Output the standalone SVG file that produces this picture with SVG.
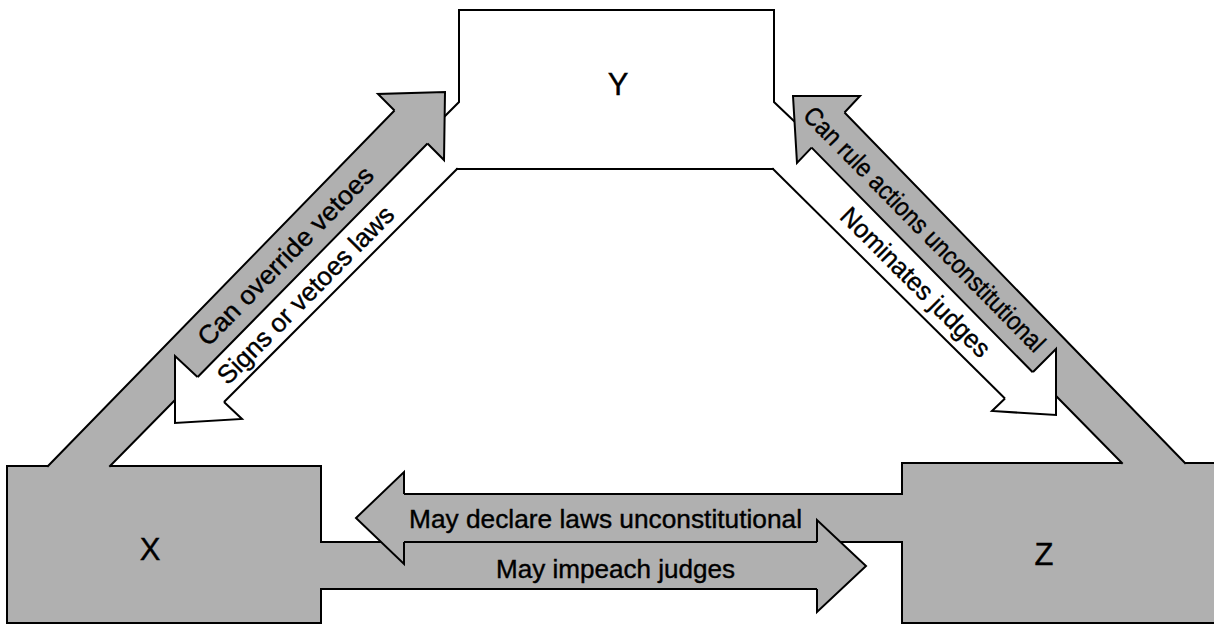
<svg xmlns="http://www.w3.org/2000/svg" width="1214" height="625" viewBox="0 0 1214 625">
<style>
.g{fill:#b0b0b0;stroke:none}
.ln{fill:none;stroke:#000;stroke-width:2;stroke-linejoin:miter;stroke-linecap:square}
.hg{fill:#b0b0b0;stroke:#000;stroke-width:2;stroke-linejoin:miter}
.hw{fill:#fff;stroke:#000;stroke-width:2;stroke-linejoin:miter}
.lbl{font-family:"Liberation Sans",Arial,Helvetica,sans-serif;font-size:26px;fill:#000;stroke:#000;stroke-width:0.4}
.nl{font-family:"Liberation Sans",Arial,Helvetica,sans-serif;font-size:31px;fill:#000;text-anchor:middle;stroke:#000;stroke-width:0.4}
</style>
<rect width="1214" height="625" fill="#fff"/>
<g id="node-y">
<path class="ln" d="M445,116 L459,102 L459,10 L774,10 L774,102 L794,121"/>
<path class="ln" d="M457,169 L773,169"/>
<text class="nl" x="618" y="95">Y</text>
</g>
<g id="node-x">
<rect class="g" x="7" y="466" width="314" height="157"/>
<path class="ln" d="M48,466 L7,466 L7,623 L321,623 L321,589 M321,542 L321,466 L110,466"/>
<text class="nl" x="150" y="560">X</text>
</g>
<g id="node-z">
<rect class="g" x="902" y="463" width="314" height="160"/>
<path class="ln" d="M1122,463 L902,463 L902,494 M902,542 L902,623 L1216,623 M1185,463 L1216,463"/>
<text class="nl" x="1044" y="565">Z</text>
</g>
<g id="connectors">
<g id="edge-x-y">
<polygon class="g" points="48,468 48,466 394.5,110.5 399,106 432,139 427.5,143.5 110,466 110,468"/>
<path class="ln" d="M48,466 L394.5,110.5 M427.5,143.5 L110,466"/>
</g>
<g id="edge-y-x">
<path class="ln" d="M457,169 L224,402"/>
</g>
<g id="edge-z-y">
<polygon class="g" points="840,108 844.5,112.5 1185,463 1185,465 1122,465 1122,463 811.6,147.6 807,143"/>
<path class="ln" d="M844.5,112.5 L1185,463 M811.6,147.6 L1122,463"/>
</g>
<g id="edge-y-z">
<path class="ln" d="M773,169 L1005,398.5"/>
</g>
<g id="edge-z-x">
<rect class="g" x="400" y="494" width="503" height="48"/>
<path class="ln" d="M404,494 L902,494 M404,542 L902,542"/>
</g>
<g id="edge-x-z">
<rect class="g" x="320" y="542" width="501" height="47"/>
<path class="ln" d="M321,542 L817,542 M321,589 L817,589"/>
</g>
<g id="arrowheads">
<path class="hg" d="M394.5,110.5 L378,94 L445,92 L444,160 L427.5,143.5"/>
<path class="hw" d="M197.5,377 L175,356 L175,423 L242,419 L224,402"/>
<path class="hg" d="M844.5,112.5 L860,96 L793,96 L797,163 L811.6,147.6"/>
<path class="hw" d="M1033,372 L1056,349 L1056,415 L992,411 L1005,398.5"/>
<path class="hg" d="M404,494 L404,472 L356,518 L404,564 L404,542"/>
<path class="hg" d="M817,542 L817,520 L866,566 L817,612 L817,589"/>
</g>
<g id="connector-labels">
<text class="lbl" text-anchor="middle" textLength="239" lengthAdjust="spacingAndGlyphs" transform="translate(285,255.5) rotate(-45.6)" x="0" y="9.5">Can override vetoes</text>
<text class="lbl" text-anchor="middle" textLength="239" lengthAdjust="spacingAndGlyphs" transform="translate(305,294.5) rotate(-45.3)" x="0" y="9.5">Signs or vetoes laws</text>
<text class="lbl" text-anchor="middle" textLength="332" lengthAdjust="spacingAndGlyphs" transform="translate(925,228.8) rotate(45.5)" x="0" y="9.5">Can rule actions unconstitutional</text>
<text class="lbl" text-anchor="middle" textLength="200" lengthAdjust="spacingAndGlyphs" transform="translate(916,281.7) rotate(45)" x="0" y="9.5">Nominates judges</text>
<text class="lbl" x="409" y="528" textLength="393" lengthAdjust="spacingAndGlyphs">May declare laws unconstitutional</text>
<text class="lbl" x="496" y="578" textLength="239" lengthAdjust="spacingAndGlyphs">May impeach judges</text>
</g>
</g>
</svg>
